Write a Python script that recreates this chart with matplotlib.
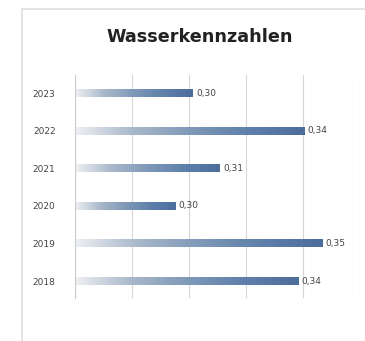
import numpy as np
import matplotlib.pyplot as plt
from matplotlib.colors import LinearSegmentedColormap
from matplotlib.patches import Rectangle

years = ['2018', '2019', '2020', '2021', '2022', '2023']
values = [0.3403, 0.3500, 0.2907, 0.3085, 0.3427, 0.2976]
labels = ['0,34', '0,35', '0,30', '0,31', '0,34', '0,30']
title = 'Wasserkennzahlen'

fig = plt.figure(figsize=(3.65, 3.41), dpi=100)
fig.patch.set_facecolor('white')
# card border (right and bottom edges fall outside the picture)
fig.patches.append(Rectangle((22 / 365, -0.05), 1.2, 1 - 8.5 / 341 + 0.05,
                             transform=fig.transFigure, fill=False,
                             edgecolor='#e0e0e0', linewidth=1.3))

ax = fig.add_axes([75 / 365, 1 - 298 / 341, 285 / 365, 223 / 341])
xmin, xmax = 0.25, 0.365
ax.set_xlim(xmin, xmax)
ax.set_ylim(-0.45, 5.48)
ax.set_xticks(np.linspace(xmin, xmax, 6))
ax.xaxis.grid(True, color='#d6d6d6', linewidth=0.8)
ax.set_axisbelow(True)
ax.tick_params(axis='x', length=0, labelbottom=False)
ax.tick_params(axis='y', length=0, labelsize=6.5, labelcolor='#444444', pad=14)
ax.set_yticks(range(len(years)))
ax.set_yticklabels(years)
for s in ['top', 'right', 'bottom']:
    ax.spines[s].set_visible(False)
ax.spines['left'].set_color('#cccccc')

cmap = LinearSegmentedColormap.from_list(
    'bar', ['#eef0f3', '#a9b8ca', '#7f99b8', '#5f80aa', '#4d6e9c'])
grad = np.linspace(0, 1, 256).reshape(1, -1)
h = 0.21
for i, v in enumerate(values):
    ax.imshow(grad, cmap=cmap, aspect='auto', extent=(xmin, v, i - h / 2, i + h / 2),
              interpolation='bicubic', zorder=2)
    ax.text(v + 0.0012, i, labels[i], va='center', ha='left', fontsize=6.5,
            color='#444444')

fig.text(200 / 365, 1 - 37 / 341, title, ha='center', va='center',
         fontsize=12.7, fontweight='bold', color='#222222')

fig.savefig('out.png', dpi=100)
